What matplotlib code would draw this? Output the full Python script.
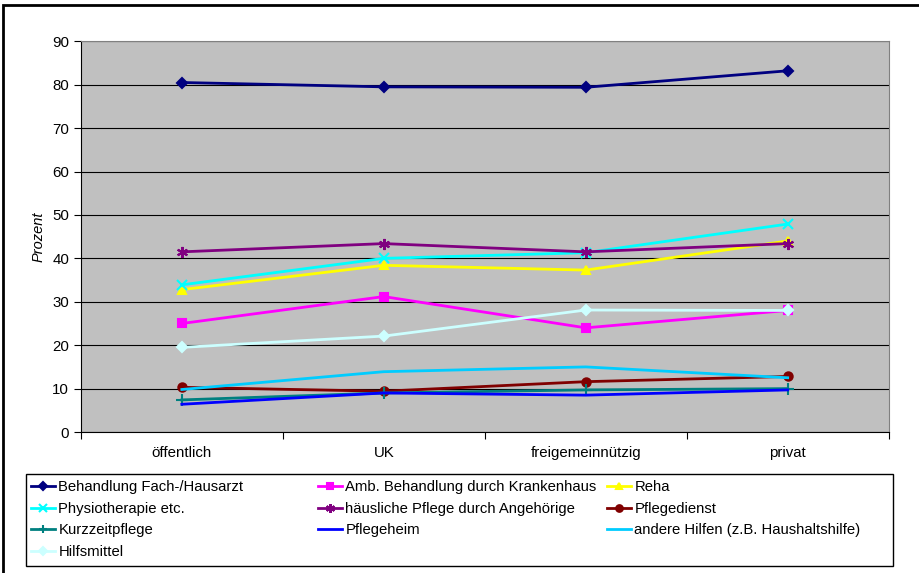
import matplotlib.pyplot as plt
from matplotlib.patches import Rectangle

plt.rcParams['font.family'] = ['Liberation Sans', 'DejaVu Sans']

categories = ['öffentlich', 'UK', 'freigemeinnützig', 'privat']

fach_hausarzt = [80.5, 79.5, 79.4, 83.2]
amb_krankenhaus = [25.0, 31.2, 24.0, 28.0]
reha = [32.8, 38.4, 37.3, 44.0]
physio = [33.9, 40.0, 41.3, 47.9]
haeusl_pflege = [41.5, 43.4, 41.5, 43.4]
pflegedienst = [10.3, 9.4, 11.6, 12.8]
kurzzeitpflege = [7.4, 9.0, 9.7, 10.0]
pflegeheim = [6.4, 9.0, 8.5, 9.7]
andere_hilfen = [9.8, 13.9, 15.0, 12.5]
hilfsmittel = [19.5, 22.1, 28.1, 28.0]

series = [
    ('Behandlung Fach-/Hausarzt', fach_hausarzt, '#000080', 'D', 5),
    ('Amb. Behandlung durch Krankenhaus', amb_krankenhaus, '#FF00FF', 's', 6),
    ('Reha', reha, '#FFFF00', '^', 6),
    ('Physiotherapie etc.', physio, '#00FFFF', 'x', 7),
    ('häusliche Pflege durch Angehörige', haeusl_pflege, '#800080', (6, 2, 0), 8),
    ('Pflegedienst', pflegedienst, '#800000', 'o', 6),
    ('Kurzzeitpflege', kurzzeitpflege, '#008080', '+', 8),
    ('Pflegeheim', pflegeheim, '#0000FF', None, 0),
    ('andere Hilfen (z.B. Haushaltshilfe)', andere_hilfen, '#00CCFF', None, 0),
    ('Hilfsmittel', hilfsmittel, '#CCFFFF', 'D', 5),
]

fig = plt.figure(figsize=(9.19, 5.73), dpi=100)
ax = fig.add_axes([0.088, 0.246, 0.879, 0.682])
ax.set_facecolor('#C0C0C0')

x = list(range(len(categories)))
handles = []
for label, vals, color, marker, ms in series:
    h, = ax.plot(x, vals, color=color, lw=2, marker=marker, markersize=ms,
                 markeredgewidth=1.5, label=label)
    handles.append(h)

ax.set_xlim(-0.5, 3.5)
ax.set_ylim(0, 90)
ax.set_yticks(range(0, 91, 10))
ax.yaxis.grid(True, color='black', lw=0.8)
ax.set_axisbelow(True)

ax.set_xticks([-0.5, 0.5, 1.5, 2.5, 3.5])
ax.set_xticklabels([])
ax.set_xticks(x, minor=True)
ax.set_xticklabels(categories, minor=True)
ax.tick_params(axis='x', which='minor', length=0, pad=10, labelsize=10.8)
ax.tick_params(axis='x', which='major', length=5, direction='out')
ax.tick_params(axis='y', length=5, direction='out', labelsize=10.8)

for side in ['top', 'right']:
    ax.spines[side].set_color('#808080')
ax.spines['left'].set_color('black')
ax.spines['bottom'].set_color('black')

ax.set_ylabel('Prozent', fontsize=10.5, style='italic', labelpad=5)

# legend: three columns, row-major like the original
col_x = [31 / 919, 318 / 919, 607 / 919]
legend_top = 1 - 480 / 573
for i, cx in enumerate(col_x):
    col_handles = handles[i::3]
    fig.legend(handles=col_handles, loc='upper left',
               bbox_to_anchor=(cx, legend_top), frameon=False,
               fontsize=10.7, handlelength=1.6, handletextpad=0.25,
               labelspacing=0.52, borderpad=0, borderaxespad=0,
               markerscale=0.8)

fig.add_artist(Rectangle((26 / 919, 1 - 566 / 573), 867 / 919, 92 / 573,
                         transform=fig.transFigure, fill=False,
                         edgecolor='black', lw=1))

# outer chart border
fig.add_artist(Rectangle((3 / 919, -0.02), 1.0, 1 - 5 / 573 + 0.02,
                         transform=fig.transFigure, fill=False,
                         edgecolor='black', lw=2))

fig.savefig('out.png', dpi=100)
